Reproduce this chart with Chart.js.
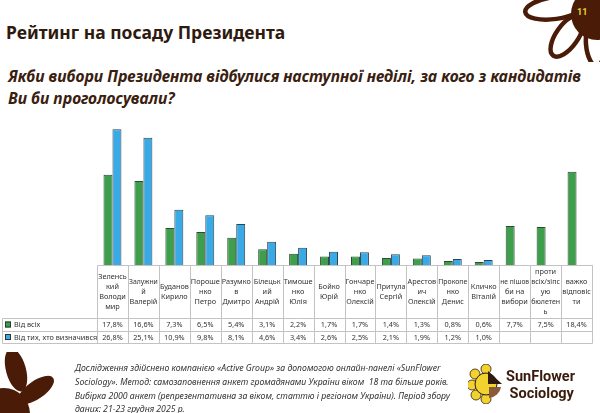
<!DOCTYPE html>
<html>
<head>
<meta charset="utf-8">
<script src="https://cdn.jsdelivr.net/npm/chart.js@4.4.0/dist/chart.umd.min.js"></script>
<style>
  body { margin: 0; width: 600px; height: 413px; overflow: hidden; background: #fff; position: relative; font-family: "Noto Sans", sans-serif; }
  #chart { position: absolute; left: 0; top: 0; }
  .title { position: absolute; left: 6px; top: 20px; font-size: 17.5px; font-weight: bold; color: #2e1a0e; }
  .question { position: absolute; left: 8px; top: 65px; font-size: 15.7px; line-height: 22px; font-weight: bold; font-style: italic; color: #3a200f; white-space: nowrap; }
  .note { position: absolute; left: 75px; top: 362px; font-size: 8.7px; line-height: 13.8px; font-style: italic; color: #333; white-space: nowrap; }
  .logo { position: absolute; left: 506px; top: 368px; font-family: Roboto, sans-serif; font-size: 14.5px; line-height: 17px; font-weight: bold; color: #3a1a0a; }
  svg { position: absolute; }
</style>
</head>
<body>
<div class="title">Рейтинг на посаду Президента</div>
<div class="question">Якби вибори Президента відбулися наступної неділі, за кого з кандидатів<br>Ви би проголосували?</div>

<svg style="left:515px;top:0" width="85" height="62" viewBox="0 0 85 62">
  <g fill="none" stroke="#4a1c08" stroke-width="4.5">
    <ellipse cx="40" cy="8" rx="30" ry="11" transform="rotate(-8 40 8)"/>
    <ellipse cx="52" cy="36" rx="11" ry="24" transform="rotate(35 52 36)"/>
    <ellipse cx="80" cy="44" rx="9" ry="22" transform="rotate(-5 80 44)"/>
  </g>
  <circle cx="82" cy="14" r="26" fill="#4a1c08"/>
  <text x="62" y="15" font-family="Roboto" font-weight="bold" font-size="9" fill="#e8d23a">11</text>
</svg>

<svg style="left:0;top:352px" width="60" height="61" viewBox="0 0 60 61">
  <g fill="#4a1c08">
    <ellipse cx="16" cy="18" rx="10" ry="22" transform="rotate(-15 16 18)"/>
    <ellipse cx="36" cy="38" rx="9" ry="21" transform="rotate(55 36 38)"/>
    <circle cx="4" cy="62" r="26"/>
  </g>
</svg>

<svg style="left:468px;top:364px" width="36" height="40" viewBox="0 0 36 40">
  <g fill="#f2d22e" stroke="#2e1a0e" stroke-width="0.8">
    <ellipse cx="18" cy="5" rx="5" ry="5"/>
    <ellipse cx="7" cy="10" rx="5" ry="5"/>
    <ellipse cx="4" cy="21" rx="5" ry="5"/>
    <ellipse cx="8" cy="31" rx="5" ry="5"/>
    <ellipse cx="18" cy="35" rx="5" ry="5"/>
  </g>
  <circle cx="18" cy="20" r="11" fill="#f2d22e" stroke="#2e1a0e" stroke-width="1"/>
  <path d="M20 7 L34 20 L20 20 Z" fill="#2e1a0e"/>
  <path d="M21 23 L33 23 A13 13 0 0 1 21 34 Z" fill="#8a5a3a"/>
</svg>

<canvas id="chart" width="600" height="413"></canvas>

<div class="note">Дослідження здійснено компанією «Active Group» за допомогою онлайн-панелі «SunFlower<br>Sociology». Метод: самозаповнення анкет громадянами України віком&nbsp; 18 та більше років.<br>Вибірка 2000 анкет (репрезентативна за віком, статтю і регіоном України). Період збору<br>даних: 21-23 грудня 2025 р.</div>
<div class="logo">SunFlower<br>&nbsp;Sociology</div>

<script>
// header lines as they are broken in the table
const candidates = [
    ['Зеленсь', 'кий', 'Володи', 'мир'],
    ['Залужни', 'й', 'Валерій'],
    ['Буданов', 'Кирило'],
    ['Пороше', 'нко', 'Петро'],
    ['Разумко', 'в', 'Дмитро'],
    ['Білецьк', 'ий', 'Андрій'],
    ['Тимоше', 'нко', 'Юлія'],
    ['Бойко', 'Юрій'],
    ['Гончаре', 'нко', 'Олексій'],
    ['Притула', 'Сергій'],
    ['Арестов', 'ич', 'Олексій'],
    ['Прокопе', 'нко', 'Денис'],
    ['Кличко', 'Віталій'],
    ['не пішов', 'би на', 'вибори'],
    ['проти', 'всіх/зіпс', 'ую', 'бюлетен', 'ь'],
    ['важко', 'відповіс', 'ти'],
];
const seriesNames = ['Від всіх', 'Від тих, хто визначився'];
const allVoters = [17.8, 16.6, 7.3, 6.5, 5.4, 3.1, 2.2, 1.7, 1.7, 1.4, 1.3, 0.8, 0.6, 7.7, 7.5, 18.4];
const decidedVoters = [26.8, 25.1, 10.9, 9.8, 8.1, 4.6, 3.4, 2.6, 2.5, 2.1, 1.9, 1.2, 1.0, null, null, null];

const green = '#3d9f4b';
const blue = '#3aaae6';

const fmt = (v) => (v == null ? '' : v.toFixed(1).replace('.', ',') + '%');

const dataTable = {
    id: 'dataTable',
    afterDraw(chart) {
        const { ctx, chartArea: area, scales } = chart;
        const n = candidates.length;
        const colW = (area.right - area.left) / n;
        const top = area.bottom;
        const headBottom = 318;
        const row1 = 331;
        const row2 = 343;
        const legLeft = 2;

        ctx.save();
        ctx.strokeStyle = '#c3c3c3';
        ctx.lineWidth = 1;
        const line = (x1, y1, x2, y2) => {
            ctx.beginPath();
            ctx.moveTo(Math.round(x1) + 0.5, Math.round(y1) + 0.5);
            ctx.lineTo(Math.round(x2) + 0.5, Math.round(y2) + 0.5);
            ctx.stroke();
        };
        line(area.left, top, area.right, top);
        [headBottom, row1, row2].forEach((y) => line(legLeft, y, area.right, y));
        for (let i = 0; i <= n; i++) line(area.left + i * colW, top, area.left + i * colW, row2);
        line(legLeft, headBottom, legLeft, row2);

        ctx.fillStyle = '#333';
        ctx.textAlign = 'center';
        ctx.textBaseline = 'middle';
        ctx.font = '7.3px "Noto Sans"';
        const lh = 10;
        candidates.forEach((lines, i) => {
            const cx = scales.x.getPixelForValue(i);
            const mid = (top + headBottom) / 2;
            const y0 = mid - ((lines.length - 1) * lh) / 2;
            lines.forEach((t, k) => ctx.fillText(t, cx, y0 + k * lh, colW - 2));
            ctx.fillText(fmt(allVoters[i]), cx, (headBottom + row1) / 2 + 0.5, colW - 2);
            ctx.fillText(fmt(decidedVoters[i]), cx, (row1 + row2) / 2 + 0.5, colW - 2);
        });

        ctx.textAlign = 'left';
        [[green, headBottom, row1], [blue, row1, row2]].forEach(([c, a, b], k) => {
            const my = (a + b) / 2;
            ctx.fillStyle = c;
            ctx.strokeStyle = '#333';
            ctx.fillRect(5, my - 3, 6, 6);
            ctx.strokeRect(5.5, my - 2.5, 5, 5);
            ctx.fillStyle = '#333';
            ctx.fillText(seriesNames[k], 14, my + 0.5);
        });
        ctx.restore();
    },
};

new Chart(document.getElementById('chart'), {
    type: 'bar',
    data: {
        labels: candidates.map((l) => l.join(' ')),
        datasets: [
            { label: seriesNames[0], data: allVoters, backgroundColor: green, borderColor: '#2b4a30', borderWidth: 1 },
            { label: seriesNames[1], data: decidedVoters, backgroundColor: blue, borderColor: '#2a4656', borderWidth: 1 },
        ],
    },
    options: {
        responsive: false,
        animation: false,
        layout: { padding: { left: 97, right: 8, top: 113, bottom: 148 } },
        datasets: { bar: { categoryPercentage: 0.58, barPercentage: 1 } },
        scales: {
            x: { display: false },
            y: { display: false, min: 0, max: 30 },
        },
        plugins: { legend: { display: false }, tooltip: { enabled: false } },
    },
    plugins: [dataTable],
});
</script>
</body>
</html>
